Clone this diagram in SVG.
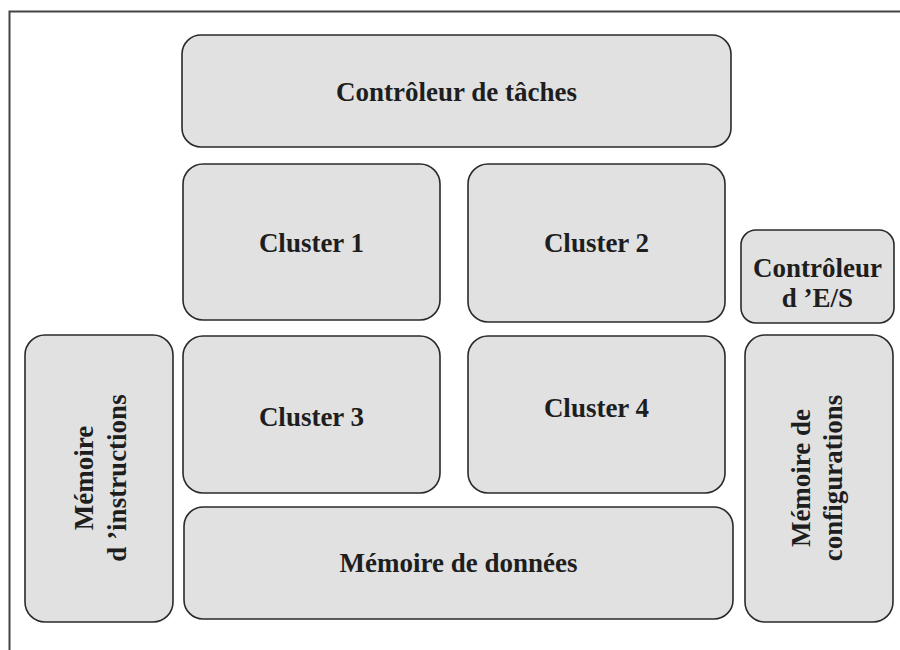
<svg xmlns="http://www.w3.org/2000/svg" width="900" height="650" viewBox="0 0 900 650">
<style>
.box{fill:#e1e1e1;stroke:#2a2a2a;stroke-width:1.6}
.lbl{font-family:"Liberation Serif","Times New Roman",serif;font-weight:bold;font-size:27px;fill:#1e1e1e;text-anchor:middle}
</style>
<rect width="900" height="650" fill="#ffffff"/>
<path d="M9.5 650 V11.5 H900" fill="none" stroke="#444" stroke-width="2"/>
<g id="controleur-taches">
<rect class="box" x="182" y="35" width="549" height="112" rx="19"/>
<text class="lbl" x="456.5" y="101">Contrôleur de tâches</text>
</g>
<g id="cluster1">
<rect class="box" x="183" y="164" width="257" height="156" rx="20"/>
<text class="lbl" x="311.5" y="252">Cluster 1</text>
</g>
<g id="cluster2">
<rect class="box" x="468" y="164" width="257" height="158" rx="20"/>
<text class="lbl" x="596.5" y="252">Cluster 2</text>
</g>
<g id="controleur-es">
<rect class="box" x="741" y="230" width="153" height="93" rx="15"/>
<text class="lbl" x="817.5" y="277">Contrôleur</text>
<text class="lbl" x="817.5" y="307">d ’E/S</text>
</g>
<g id="memoire-instructions">
<rect class="box" x="25" y="335" width="148" height="287" rx="20"/>
<text class="lbl" transform="translate(93,478) rotate(-90)">Mémoire</text>
<text class="lbl" transform="translate(126,478) rotate(-90)">d ’instructions</text>
</g>
<g id="cluster3">
<rect class="box" x="183" y="336" width="257" height="157" rx="20"/>
<text class="lbl" x="311.5" y="426">Cluster 3</text>
</g>
<g id="cluster4">
<rect class="box" x="468" y="336" width="257" height="157" rx="20"/>
<text class="lbl" x="596.5" y="417">Cluster 4</text>
</g>
<g id="memoire-configurations">
<rect class="box" x="745" y="335" width="148" height="287" rx="20"/>
<text class="lbl" transform="translate(810,478) rotate(-90)">Mémoire de</text>
<text class="lbl" transform="translate(842,478) rotate(-90)">configurations</text>
</g>
<g id="memoire-donnees">
<rect class="box" x="184" y="507" width="549" height="112" rx="19"/>
<text class="lbl" x="458.5" y="572">Mémoire de données</text>
</g>
<g id="connectors"></g>
</svg>
